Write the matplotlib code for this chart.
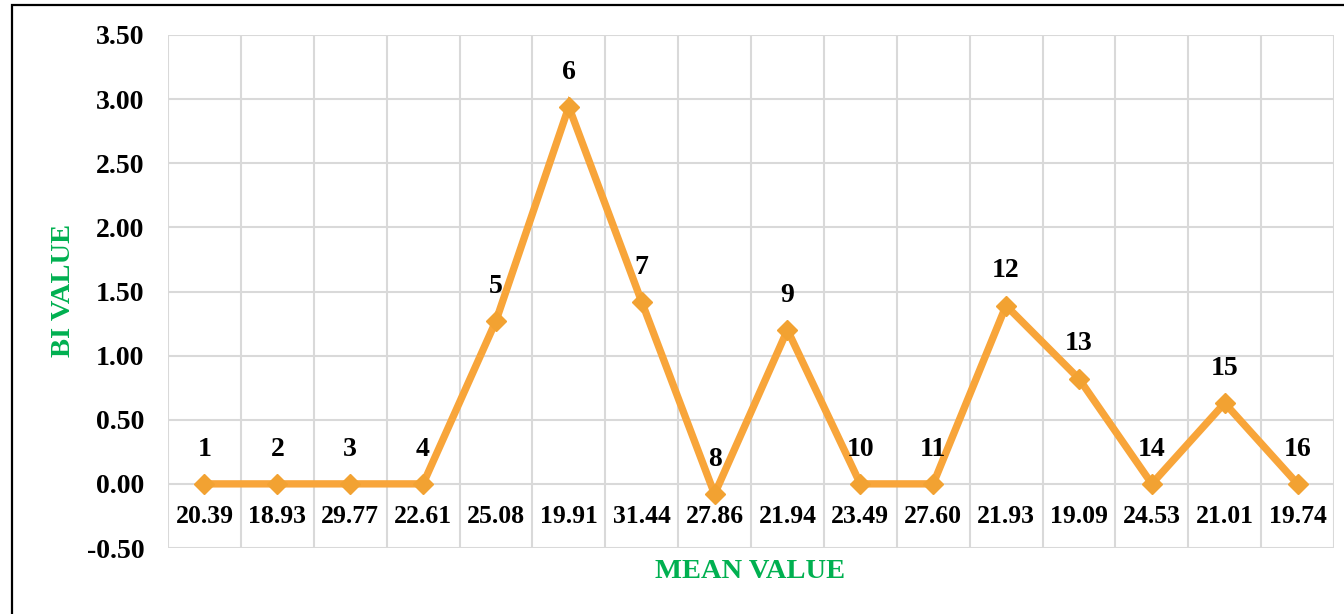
import matplotlib
matplotlib.use("Agg")
import matplotlib.pyplot as plt
from matplotlib.patches import Rectangle
from matplotlib.ticker import FixedLocator
import numpy as np

categories = ["20.39", "18.93", "29.77", "22.61", "25.08", "19.91", "31.44", "27.86",
              "21.94", "23.49", "27.60", "21.93", "19.09", "24.53", "21.01", "19.74"]
bi_values = [0.0, 0.0, 0.0, 0.0, 1.27, 2.94, 1.42, -0.08, 1.20, 0.0, 0.0, 1.39, 0.82, 0.0, 0.63, 0.0]
point_labels = [str(i + 1) for i in range(len(categories))]
y_ticks = [-0.5, 0.0, 0.5, 1.0, 1.5, 2.0, 2.5, 3.0, 3.5]

plt.rcParams['font.family'] = ['Liberation Serif', 'DejaVu Serif']
plt.rcParams['font.weight'] = 'bold'

fig = plt.figure(figsize=(13.44, 6.14), dpi=100)
ax = fig.add_axes([168 / 1344, 1 - 548 / 614, (1334 - 168) / 1344, (548 - 35) / 614])

x = np.arange(len(categories))
line_color = '#F8A53A'
ax.plot(x, bi_values, color=line_color, lw=5.3, marker='D', markersize=10.5,
        markerfacecolor='#F2A232', markeredgecolor='#F2A232', zorder=3, solid_joinstyle='miter')

for xi, yi, lab in zip(x, bi_values, point_labels):
    ax.annotate(lab, (xi, yi), xytext=(0, 25), textcoords='offset points',
                ha='center', va='center', fontsize=20, fontweight='bold', color='black', zorder=4)

ax.set_xlim(-0.5, len(categories) - 0.5)
ax.set_ylim(-0.5, 3.5)
ax.set_yticks(y_ticks)
ax.set_yticklabels([f"{v:.2f}" for v in y_ticks])

ax.xaxis.set_major_locator(FixedLocator(x))
ax.set_xticklabels(categories)
ax.xaxis.set_minor_locator(FixedLocator(np.arange(-0.5, len(categories), 1.0)))

ax.spines['bottom'].set_position(('data', 0))
for s in ax.spines.values():
    s.set_visible(False)

ax.tick_params(axis='x', which='both', length=0, pad=15, labelsize=18.5)
ax.tick_params(axis='y', which='both', length=0, pad=17, labelsize=20)
for t in ax.get_xticklabels() + ax.get_yticklabels():
    t.set_fontweight('bold')

ax.grid(False)
ax.yaxis.grid(True, which='major', color='#D9D9D9', lw=1.5)
ax.xaxis.grid(True, which='minor', color='#D9D9D9', lw=1.5)
ax.set_axisbelow(True)

green = '#00B050'
fig.text(63 / 1344, 1 - 290 / 614, 'BI VALUE', rotation=90, ha='center', va='center',
         fontsize=20.5, fontweight='bold', color=green)
fig.text(750 / 1344, 1 - 571 / 614, 'MEAN VALUE', ha='center', va='center',
         fontsize=20.5, fontweight='bold', color=green)

fig.patches.append(Rectangle((12 / 1344, -0.2), 1.2, 1.2 - 5.5 / 614, transform=fig.transFigure,
                             fill=False, edgecolor='black', lw=1.6, zorder=0))

fig.savefig('out.png', dpi=100)
